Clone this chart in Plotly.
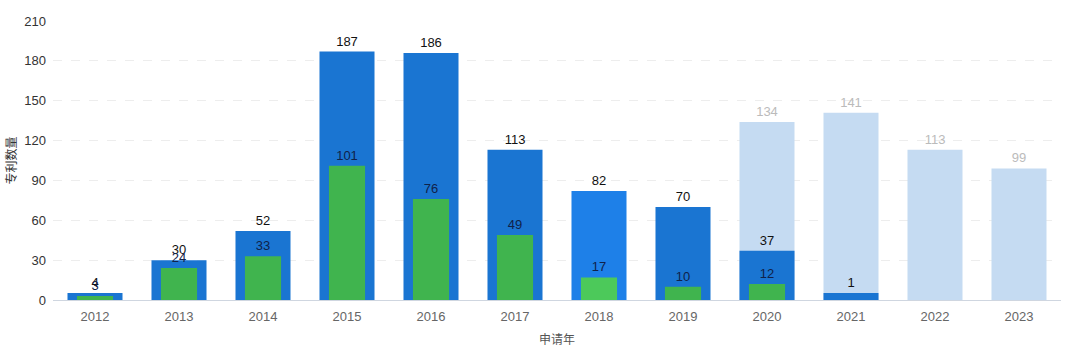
import plotly.graph_objects as go

years = ["2012", "2013", "2014", "2015", "2016", "2017", "2018", "2019", "2020", "2021", "2022", "2023"]
total_apps = [4, 30, 52, 187, 186, 113, 82, 70, 37, 1, None, None]
granted = [3, 24, 33, 101, 76, 49, 17, 10, 12, None, None, None]
pending_years = ["2020", "2021", "2022", "2023"]
pending = [134, 141, 113, 99]

y_max = 210
y_dtick = 30
highlight = "2018"

# plot geometry (px)
W, H = 1080, 354
L, R, T, B = 53, 19, 21, 54
plot_h = H - T - B
min_bar_units = 7 * y_max / plot_h  # minimum visible bar height like barMinHeight

blue = "#1a75d2"
blue_hi = "#1e80e8"
green = "#40b44e"
green_hi = "#4cc95a"
light = "#c5dbf2"

disp_total = [None if v is None else max(v, min_bar_units) for v in total_apps]
blue_colors = [blue_hi if y == highlight else blue for y in years]
green_colors = [green_hi if y == highlight else green for y in years]

font_fam = "Liberation Sans, Arial, Noto Sans CJK SC, sans-serif"

fig = go.Figure()
fig.add_trace(go.Bar(
    x=pending_years, y=pending, width=0.655, marker=dict(color=light, line=dict(width=0)),
    text=[str(v) for v in pending], textposition="outside", cliponaxis=False,
    textfont=dict(color="#bbbbbb", size=13, family=font_fam), name="pending",
))
fig.add_trace(go.Bar(
    x=years, y=disp_total, width=0.655, marker=dict(color=blue_colors, line=dict(width=0)),
    text=["" if v is None else str(v) for v in total_apps], textposition="outside", cliponaxis=False,
    textfont=dict(color="#111111", size=13, family=font_fam), name="total",
))
fig.add_trace(go.Bar(
    x=years, y=granted, width=0.43, marker=dict(color=green_colors, line=dict(width=0)),
    text=["" if v is None else str(v) for v in granted], textposition="outside", cliponaxis=False,
    textfont=dict(color="#10224a", size=13, family=font_fam), name="granted",
))

fig.update_layout(
    width=W, height=H,
    margin=dict(l=L, r=R, t=T, b=B),
    barmode="overlay",
    showlegend=False,
    plot_bgcolor="white", paper_bgcolor="white",
    font=dict(family=font_fam),
    annotations=[
        dict(text="专利数量", xref="paper", yref="paper",
             x=(10 - L) / (W - L - R), y=0.5, xanchor="center", yanchor="middle",
             showarrow=False, textangle=-90, font=dict(size=12, color="#333333",
             family="Noto Sans CJK SC, sans-serif")),
        dict(text="申请年", xref="paper", yref="paper",
             x=0.5, y=-(338 - T - plot_h) / plot_h, xanchor="center", yanchor="middle",
             showarrow=False, font=dict(size=12, color="#555555",
             family="Noto Sans CJK SC, sans-serif")),
    ],
)

fig.update_xaxes(
    type="category", categoryorder="array", categoryarray=years,
    showline=True, linecolor="#cfd6e0", linewidth=1,
    ticks="", ticklabelstandoff=4, tickfont=dict(size=13, color="#666666", family=font_fam),
    showgrid=False,
)
fig.update_yaxes(
    range=[0, y_max], dtick=y_dtick, tick0=0,
    showgrid=True, gridcolor="#ededed", griddash="dash", gridwidth=1,
    zeroline=False, showline=False,
    ticks="", ticklabelstandoff=6,
    tickfont=dict(size=13, color="#333333", family=font_fam),
)

fig.write_html("out.html")
